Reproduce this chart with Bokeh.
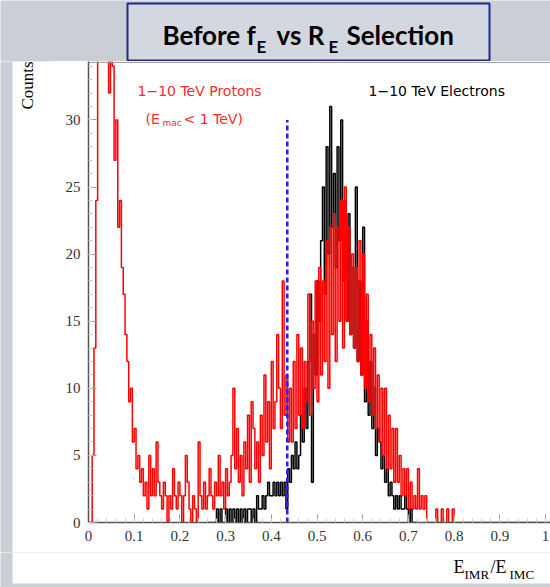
import numpy as np
from bokeh.plotting import figure
from bokeh.layouts import column, row
from bokeh.models import FixedTicker, Range1d, Span
from bokeh.core.properties import value
from bokeh.embed import file_html
from bokeh.resources import INLINE

# ---------------- data ----------------
BIN_WIDTH = 0.004
PROTON_START = 0.0
PROTON_COUNTS = [
    0, 0, 5, 13, 24, 36, 44, 40, 47, 38,
    42, 32, 39, 34, 27, 30, 22, 24, 19, 17,
    14, 12, 9, 10, 6, 7, 4, 5, 3, 4,
    2, 3, 1, 5, 2, 4, 2, 6, 3, 2,
    1, 3, 2, 0, 2, 1, 4, 2, 1, 3,
    2, 0, 2, 5, 3, 1, 0, 2, 1, 0,
    6, 2, 1, 3, 1, 2, 4, 2, 1, 3,
    2, 5, 2, 3, 1, 4, 2, 3, 5, 10,
    4, 7, 3, 5, 2, 6, 4, 8, 3, 9,
    7, 4, 6, 3, 8, 5, 11, 6, 9, 4,
    12, 7, 9, 14, 10, 7, 18, 8, 11, 6,
    10, 6, 12, 7, 14, 8, 13, 7, 12, 9,
    17, 8, 15, 10, 18, 9, 19, 11, 18, 12,
    21, 10, 22, 14, 23, 12, 22, 15, 24, 13,
    25, 15, 22, 14, 20, 13, 19, 12, 21, 11,
    20, 10, 17, 9, 14, 8, 13, 7, 11, 6,
    10, 5, 10, 4, 8, 4, 7, 3, 7, 3,
    5, 2, 4, 2, 4, 1, 3, 1, 2, 1,
    4, 1, 2, 1, 2, 0, 0, 0, 0, 0,
    1, 0, 0, 1, 0, 0, 1, 0, 0, 1,
    0, 0, 0, 0, 0, 0, 0, 0, 0, 0,
    0, 0, 0, 0, 0, 0, 0, 0, 0, 0,
    0, 0, 0, 0, 0, 0, 0, 0, 0, 0,
    0, 0, 0, 0, 0, 0, 0, 0, 0, 0,
    0, 0, 0, 0, 0, 0, 0, 0, 0, 0,
    0, 0, 0,
]
ELECTRON_START = 0.26
ELECTRON_COUNTS = [
    0, 0, 0, 0, 0,
    1, 0, 1, 0, 0, 1, 0, 1, 0, 1,
    0, 1, 0, 1, 0, 1, 0, 1, 1, 0,
    1, 0, 2, 1, 1, 2, 1, 2, 3, 2,
    2, 3, 2, 3, 2, 3, 2, 3, 1, 4,
    3, 5, 4, 6, 4, 5, 8, 6, 10, 7,
    12, 17, 3, 14, 11, 18, 15, 21, 25, 17,
    28, 20, 31, 22, 26, 19, 28, 21, 30, 18,
    24, 15, 23, 14, 19, 13, 25, 12, 18, 11,
    22, 9, 15, 8, 12, 7, 10, 5, 7, 6,
    4, 5, 3, 4, 2, 3, 2, 1, 2, 1,
    2, 1, 1, 2, 1, 0, 1, 0, 0, 0,
]
CUT_VALUE = 0.435
CUT_TOP = 30
X_TICKS = [0, 0.1, 0.2, 0.3, 0.4, 0.5, 0.6, 0.7, 0.8, 0.9, 1.0]
X_TICK_LABELS = ["0", "0.1", "0.2", "0.3", "0.4", "0.5", "0.6", "0.7", "0.8", "0.9", "1"]
Y_TICKS = [0, 5, 10, 15, 20, 25, 30]

TITLE_PARTS = ["Before f", "E", "vs R", "E", "Selection"]
PROTON_LABEL = "1\u221210 TeV Protons"
ELECTRON_LABEL = "1\u221210 TeV Electrons"
Y_TITLE = "Counts"

# ---------------- geometry (page pixels) ----------------
W, H = 550, 587
GRAY = "#cacfd6"
PANEL_LEFT = 12
TOP_H = 61          # page rows 0..61  : title strip
MID_H = 491         # page rows 61..552: left strip + main plot
BOT_H = H - TOP_H - MID_H   # page rows 552..587
LEFT_W = 50
MAIN_W = W - LEFT_W
FRAME_LEFT_PAGE = 88
FRAME_BOTTOM_PAGE = 522
PX_PER_X = 457.0
PX_PER_Y = 13.42
FRAME_H = FRAME_BOTTOM_PAGE - TOP_H
X_END = (W - FRAME_LEFT_PAGE) / PX_PER_X
Y_END = FRAME_H / PX_PER_Y
BASE_FIX = 0.42     # Bokeh draws the alphabetic baseline ~0.42 em low


def dx(px):
    return (px - FRAME_LEFT_PAGE) / PX_PER_X


def dy(py):
    return (FRAME_BOTTOM_PAGE - py) / PX_PER_Y


def step_xy(start, counts):
    xs, ys = [], []
    prev = 0
    for i, c in enumerate(counts):
        x = start + i * BIN_WIDTH
        xs += [x, x]
        ys += [prev, c]
        prev = c
    end = start + len(counts) * BIN_WIDTH
    xs += [end, end]
    ys += [prev, 0]
    return xs, ys


def canvas(w, h):
    f = figure(width=w, height=h, x_range=Range1d(0, w), y_range=Range1d(0, h),
               x_axis_type=None, y_axis_type=None, output_backend="svg",
               toolbar_location=None, title=None, min_border=0, frame_align=False)
    f.outline_line_color = None
    f.background_fill_color = GRAY
    f.border_fill_color = GRAY
    return f


def put_text(f, h, px, py, text, size, color="black", font="Lato", style="normal",
             rotated=False):
    # px, py: baseline start in the strip's own pixels, from its top-left
    if rotated:
        x, y, angle = px - BASE_FIX * size, h - py, np.pi / 2
    else:
        x, y, angle = px, h - (py - BASE_FIX * size), 0.0
    f.text(x=[x], y=[y], text=[text], text_font=value(font),
           text_font_size=value(f"{size}px"), text_font_style=style,
           text_color=color, text_align="left", text_baseline="alphabetic",
           angle=angle)


# ---------------- top strip: title box ----------------
top = canvas(W, TOP_H)
top.quad(left=[127], right=[489], top=[TOP_H - 3], bottom=[1],
         fill_color="#d3d8e0", line_color="#1c2a8e", line_width=2)
put_text(top, TOP_H, 162, 45, TITLE_PARTS[0], 26, style="bold")
put_text(top, TOP_H, 256, 53, TITLE_PARTS[1], 17, style="bold")
put_text(top, TOP_H, 276, 45, TITLE_PARTS[2], 26, style="bold")
put_text(top, TOP_H, 328, 53, TITLE_PARTS[3], 17, style="bold")
put_text(top, TOP_H, 346, 45, TITLE_PARTS[4], 26, style="bold")

# ---------------- left strip: y title ----------------
left = canvas(LEFT_W, MID_H)
left.quad(left=[PANEL_LEFT], right=[LEFT_W], top=[MID_H], bottom=[0],
          fill_color="white", line_color=None)
put_text(left, MID_H, 34, 109 - TOP_H, Y_TITLE, 17, font="Liberation Serif",
         rotated=True)

# ---------------- main plot ----------------
p = figure(width=MAIN_W, height=MID_H, x_range=Range1d(0, X_END), y_range=Range1d(0, Y_END),
           output_backend="svg", toolbar_location=None, title=None, frame_align=False,
           min_border_left=FRAME_LEFT_PAGE - LEFT_W, min_border_right=0,
           min_border_top=0, min_border_bottom=MID_H - FRAME_H)
p.border_fill_color = "white"
p.background_fill_color = "white"
p.grid.visible = False
p.outline_line_color = None
p.add_layout(Span(location=Y_END * 0.998, dimension="width", line_color="#9a9a9a",
                  line_width=1))

ex, ey = step_xy(ELECTRON_START, ELECTRON_COUNTS)
p.line(ex, ey, line_color="black", line_width=1.5)
qx, qy = step_xy(PROTON_START, PROTON_COUNTS)
p.line(qx, qy, line_color="#ff0000", line_width=1.5)

p.segment(x0=[CUT_VALUE], y0=[0], x1=[CUT_VALUE], y1=[CUT_TOP],
          line_color="#1f1fff", line_width=2.5, line_dash="5 3")

p.xaxis.ticker = FixedTicker(ticks=X_TICKS,
                             minor_ticks=[round(0.02 * i, 2) for i in range(51)])
p.xaxis.major_label_overrides = {t: l for t, l in zip(X_TICKS, X_TICK_LABELS)}
p.yaxis.ticker = FixedTicker(ticks=Y_TICKS, minor_ticks=list(range(0, 35)))
for ax in (p.xaxis[0], p.yaxis[0]):
    ax.axis_line_color = "#555555"
    ax.axis_line_width = 1.5
    ax.major_tick_in = 8
    ax.major_tick_out = 0
    ax.minor_tick_in = 4
    ax.minor_tick_out = 0
    ax.major_tick_line_color = "#9a9a9a"
    ax.minor_tick_line_color = "#cccccc"
    ax.major_label_text_font = "Liberation Serif"
    ax.major_label_text_font_size = "15px"
    ax.major_label_text_color = "#333333"
p.xaxis.major_label_standoff = 8
p.yaxis.major_label_standoff = 8


def plot_text(px, py, text, size, color):
    p.text(x=[dx(px)], y=[dy(py - BASE_FIX * size)], text=[text],
           text_font=value("DejaVu Sans"), text_font_size=value(f"{size}px"),
           text_color=color, text_align="left", text_baseline="alphabetic")


RED = "#ff2a2a"
plot_text(137, 96.5, PROTON_LABEL, 14, RED)
plot_text(145, 124, "(E", 14, RED)
plot_text(162, 126, "mac", 9, RED)
plot_text(183, 124, "< 1 TeV)", 14, RED)
plot_text(368, 96.5, ELECTRON_LABEL, 14, "black")

# ---------------- bottom strip: x title ----------------
bottom = canvas(W, BOT_H)
bottom.quad(left=[PANEL_LEFT], right=[W], top=[BOT_H], bottom=[4],
            fill_color="white", line_color=None)
off = TOP_H + MID_H
put_text(bottom, BOT_H, 453, 574 - off, "E", 18, font="Liberation Serif")
put_text(bottom, BOT_H, 464, 579 - off, "IMR", 13, font="Liberation Serif")
put_text(bottom, BOT_H, 490, 574 - off, "/E", 18, font="Liberation Serif")
put_text(bottom, BOT_H, 509, 579 - off, "IMC", 13, font="Liberation Serif")

layout = column(top, row(left, p, spacing=0), bottom, spacing=0)
open("out.html", "w").write(file_html(layout, INLINE))
